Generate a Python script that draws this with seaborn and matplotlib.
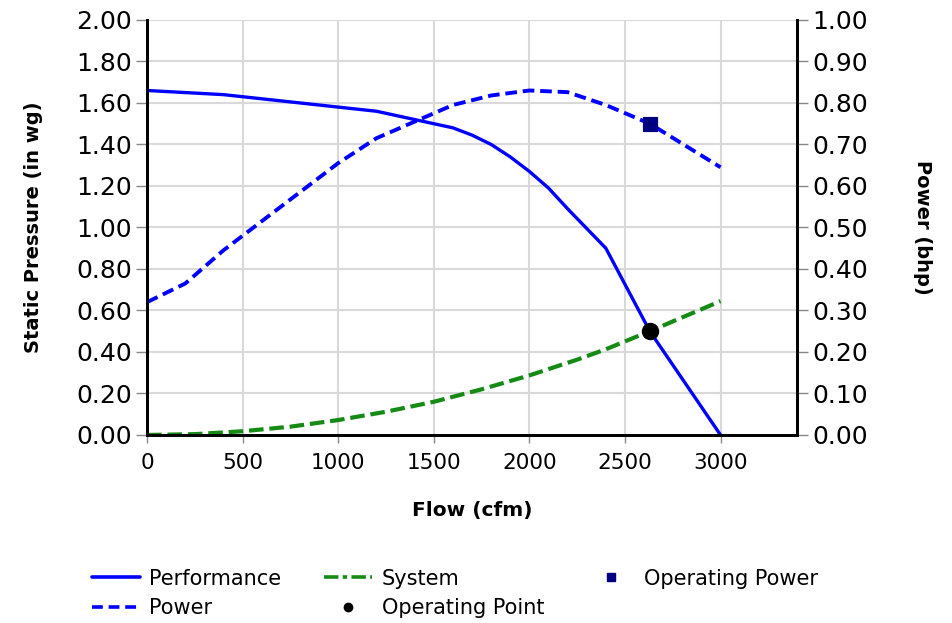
import pandas as pd
import seaborn as sns
import matplotlib.pyplot as plt
from matplotlib.lines import Line2D

# values
perf_flow = [0, 200, 400, 600, 800, 1000, 1200, 1400, 1600, 1700, 1800, 1900, 2000, 2100, 2200, 2400, 2630, 3000]
perf_sp = [1.66, 1.65, 1.64, 1.62, 1.60, 1.58, 1.56, 1.52, 1.48, 1.445, 1.40, 1.34, 1.27, 1.19, 1.09, 0.90, 0.50, 0.00]

power_flow = [0, 200, 400, 600, 800, 1000, 1200, 1400, 1600, 1800, 2000, 2200, 2400, 2630, 3000]
power_bhp = [0.32, 0.365, 0.445, 0.515, 0.585, 0.655, 0.715, 0.755, 0.795, 0.818, 0.83, 0.826, 0.795, 0.75, 0.645]

sys_flow = [0, 250, 500, 750, 1000, 1250, 1500, 1750, 2000, 2250, 2400, 2630, 3000]
sys_sp = [0.0, 0.004, 0.018, 0.04, 0.072, 0.112, 0.16, 0.22, 0.287, 0.363, 0.413, 0.50, 0.645]

op_flow = [2630]
op_sp = [0.50]
op_power = [0.75]

x_ticks = [0, 500, 1000, 1500, 2000, 2500, 3000]

perf = pd.DataFrame({"flow": perf_flow, "sp": perf_sp})
pw = pd.DataFrame({"flow": power_flow, "bhp": power_bhp})
sysc = pd.DataFrame({"flow": sys_flow, "sp": sys_sp})
op = pd.DataFrame({"flow": op_flow, "sp": op_sp, "bhp": op_power})

sns.set_style("white")
plt.rcParams['font.family'] = ['DejaVu Sans']
plt.rcParams['text.color'] = "black"
plt.rcParams['axes.labelcolor'] = "black"

blue = "#0000ff"
green = "#158a15"
navy = "#000080"
sys_dash = (0, (3.5, 1.4))
pw_dash = (0, (3, 1.5))

fig = plt.figure(figsize=(9.53, 6.23), dpi=100)
ax = fig.add_axes([0.1543, 0.3018, 0.682, 0.6662])
ax2 = ax.twinx()

sns.lineplot(data=perf, x="flow", y="sp", ax=ax, color=blue, lw=2.4)
sns.lineplot(data=sysc, x="flow", y="sp", ax=ax, color=green, lw=3, linestyle=sys_dash)
sns.scatterplot(data=op, x="flow", y="sp", ax=ax, color="black", s=135,
                marker="o", edgecolor="black", zorder=5)

sns.lineplot(data=pw, x="flow", y="bhp", ax=ax2, color=blue, lw=2.8, linestyle=pw_dash)
sns.scatterplot(data=op, x="flow", y="bhp", ax=ax2, color=navy, s=110,
                marker="s", edgecolor=navy, zorder=5)

ax.set_xlim(0, 3400)
ax.set_ylim(0, 2.0)
ax2.set_ylim(0, 1.0)
ax.set_xticks(x_ticks)
ax.set_yticks([i * 0.2 for i in range(11)])
ax2.set_yticks([i * 0.1 for i in range(11)])
ax.yaxis.set_major_formatter(plt.FormatStrFormatter("%.2f"))
ax2.yaxis.set_major_formatter(plt.FormatStrFormatter("%.2f"))

ax.grid(True, color="#d9d9d9", lw=1.5)
ax.set_axisbelow(True)
for a in (ax, ax2):
    a.spines["top"].set_visible(False)
    for s in ("left", "right", "bottom"):
        a.spines[s].set_color("black")
        a.spines[s].set_linewidth(2)
ax.tick_params(axis="y", labelsize=18, length=8, width=1, direction="out",
               colors="#888888", labelcolor="black", left=True, pad=3)
ax.tick_params(axis="x", labelsize=15.5, length=6, width=1, direction="out",
               colors="#888888", labelcolor="black", bottom=True, pad=7)
ax2.tick_params(axis="y", labelsize=18, length=8, width=1, direction="out",
                colors="#888888", labelcolor="black", right=True, pad=3)

ax.set_xlabel("Flow (cfm)", fontsize=14.5, fontweight="bold", labelpad=20)
ax.set_ylabel("Static Pressure (in wg)", fontsize=14, fontweight="bold", labelpad=24)
ax2.set_ylabel("Power (bhp)", fontsize=14, fontweight="bold", rotation=-90, labelpad=46)

handles = [
    Line2D([], [], color=blue, lw=2.6),
    Line2D([], [], color=blue, lw=2.6, linestyle=(0, (3, 1.6))),
    Line2D([], [], color=green, lw=2.6, linestyle=(0, (4, 1.2, 1.2, 1.2))),
    Line2D([], [], color="black", marker="o", ls="none", markersize=6),
    Line2D([], [], color=navy, marker="s", ls="none", markersize=5.5),
]
labels = ["Performance", "Power", "System", "Operating Point", "Operating Power"]
fig.legend(handles, labels, loc="lower left", bbox_to_anchor=(0.077, -0.022),
           ncol=3, frameon=False, fontsize=15, handlelength=2.3,
           handletextpad=0.45, columnspacing=2.05, labelspacing=0.45,
           labelcolor="black")

fig.savefig("out.png", dpi=100)
